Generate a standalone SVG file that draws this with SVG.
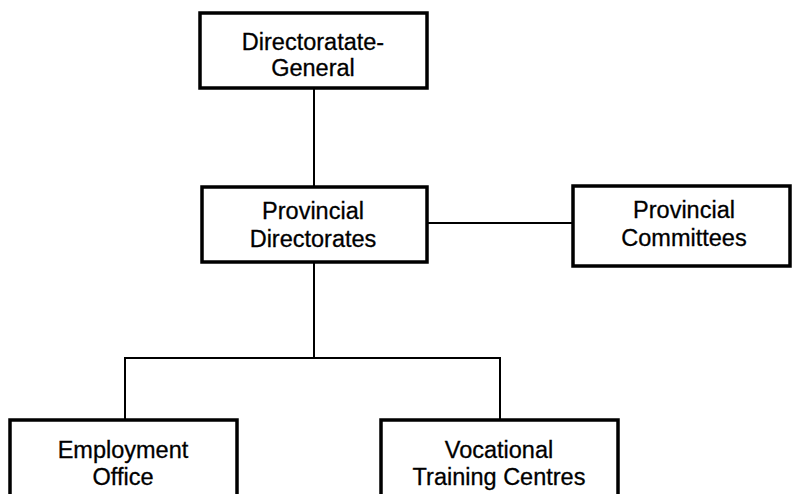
<svg xmlns="http://www.w3.org/2000/svg" width="794" height="494" viewBox="0 0 794 494">
<style>
.box{fill:#fff;stroke:#000;stroke-width:3.5}
.lbl{font-family:"Liberation Sans",Arial,sans-serif;font-size:23.5px;fill:#000;stroke:#000;stroke-width:0.3;text-anchor:middle}
.conn{stroke:#000;stroke-width:2;fill:none}
</style>
<rect width="794" height="494" fill="#fff"/>
<g id="connectors">
<line class="conn" x1="314" y1="88" x2="314" y2="187"/>
<line class="conn" x1="427" y1="223" x2="573" y2="223"/>
<line class="conn" x1="314" y1="262" x2="314" y2="358"/>
<polyline class="conn" points="125,420 125,358 500,358 500,420"/>
</g>
<g id="directorate-general">
<rect class="box" x="200" y="13" width="227" height="75"/>
<text class="lbl" x="313" y="50">Directoratate-</text>
<text class="lbl" x="313" y="76">General</text>
</g>
<g id="provincial-directorates">
<rect class="box" x="202" y="187" width="225" height="75"/>
<text class="lbl" x="313" y="219">Provincial</text>
<text class="lbl" x="313" y="247">Directorates</text>
</g>
<g id="provincial-committees">
<rect class="box" x="573" y="186" width="217" height="80"/>
<text class="lbl" x="684" y="218">Provincial</text>
<text class="lbl" x="684" y="246">Committees</text>
</g>
<g id="employment-office">
<rect class="box" x="10" y="420" width="227" height="90"/>
<text class="lbl" x="123" y="458">Employment</text>
<text class="lbl" x="123" y="485">Office</text>
</g>
<g id="vocational-training">
<rect class="box" x="381" y="420" width="237" height="90"/>
<text class="lbl" x="499" y="458">Vocational</text>
<text class="lbl" x="499" y="485">Training Centres</text>
</g>
</svg>
